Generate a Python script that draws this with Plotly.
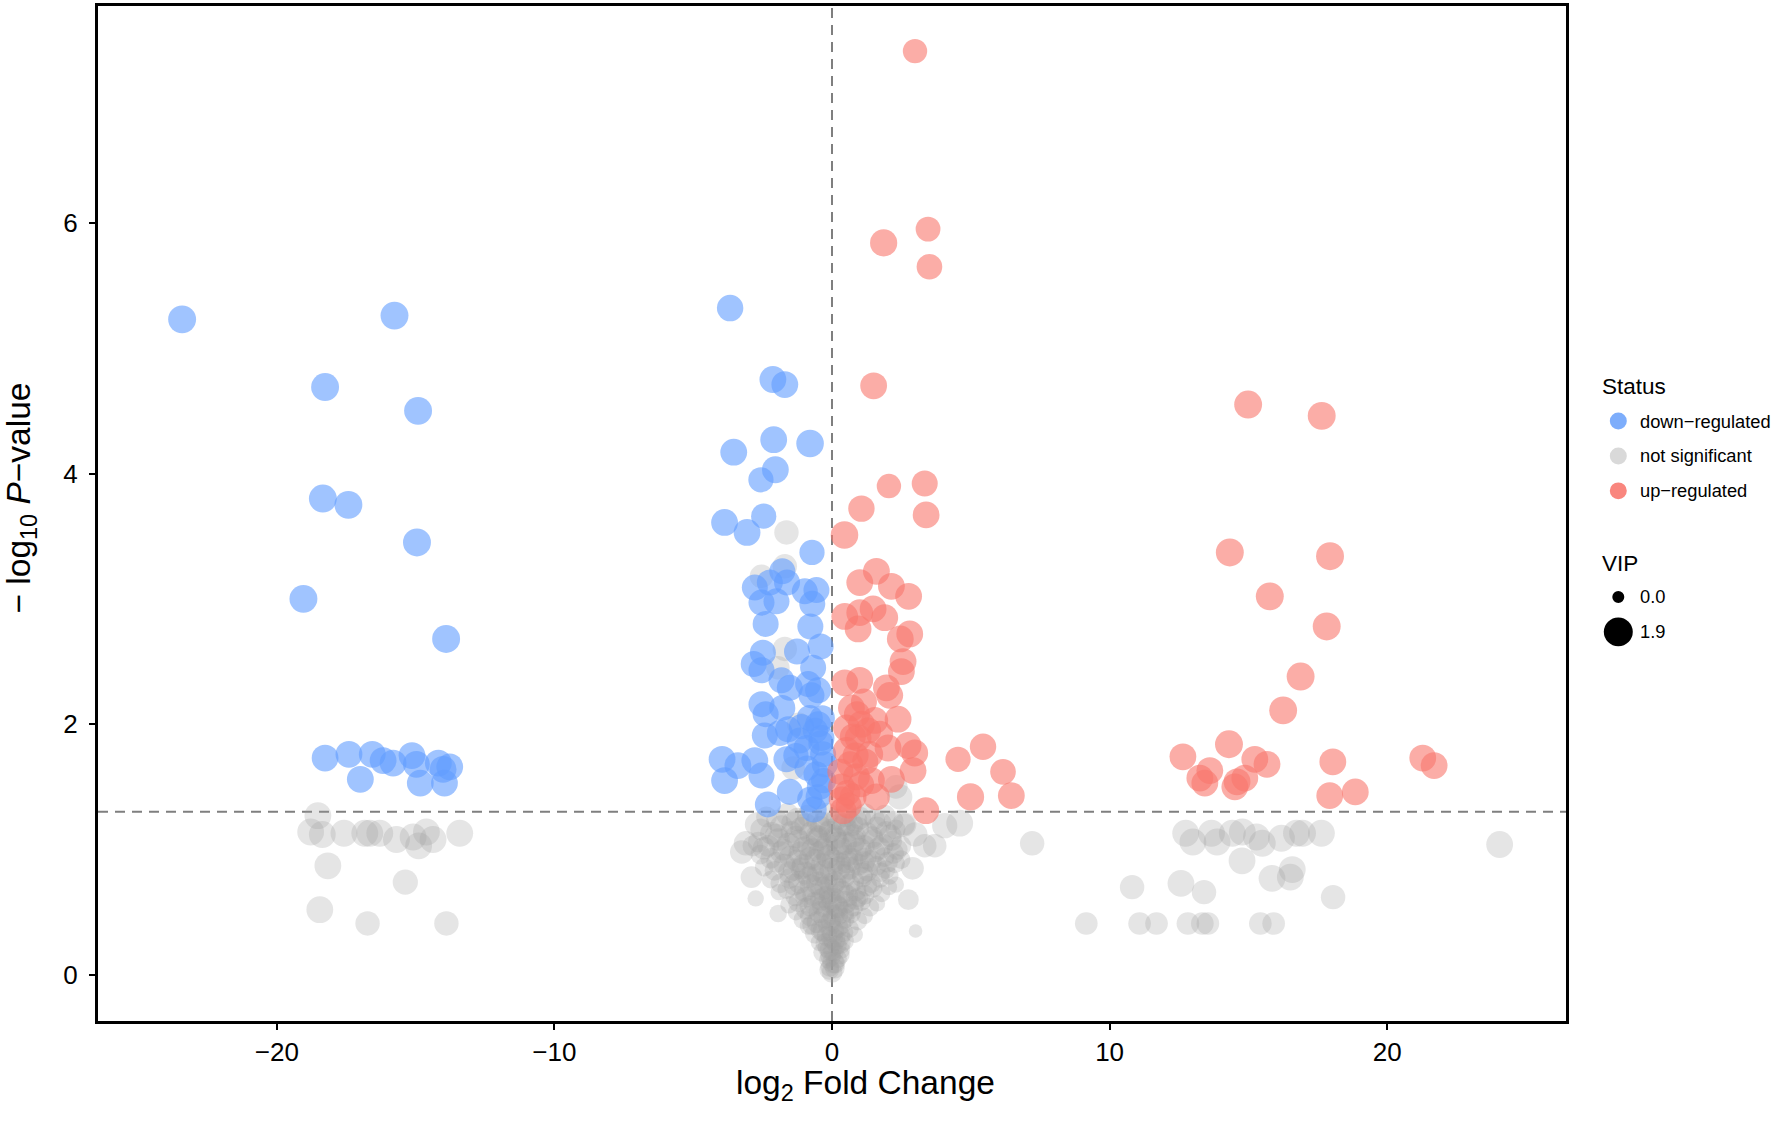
import math
import plotly.graph_objects as go

# ---------------- data ----------------
# down-regulated
down_fc = [-23.41, -15.76, -18.26, -14.91, -18.34, -17.42, -14.95, -19.04, -13.90,
           -18.26, -17.40, -16.56, -16.17, -15.81, -16.99, -15.13, -14.97, -14.18, -13.77, -14.01, -14.83, -13.96,
           -3.67, -2.13, -1.70, -2.10, -0.79, -3.54, -2.04, -2.56, -3.87, -2.46, -3.06,
           -0.72, -1.79, -2.78, -2.24, -1.62, -2.00, -2.54, -0.98, -0.56, -0.71, -2.39, -0.78, -0.41, -1.26,
           -2.49, -2.82, -2.54, -0.68, -1.82, -1.52, -0.86, -0.50, -2.54, -2.39, -1.79, -0.74, -2.42, -1.88,
           -1.58, -0.50, -0.38, -0.92, -3.96, -3.39, -2.78, -3.87, -2.54, -1.64, -0.26, -0.56, -1.52, -2.31,
           -0.66, -0.44, -0.80, -1.16, -0.32,
           -0.40, -0.60, -0.30, -0.50, -0.90, -1.10, -0.35, -1.30, -0.80]
down_p = [5.23, 5.26, 4.69, 4.50, 3.80, 3.75, 3.45, 3.00, 2.68,
          1.73, 1.76, 1.76, 1.71, 1.69, 1.56, 1.75, 1.68, 1.69, 1.66, 1.64, 1.53, 1.53,
          5.32, 4.75, 4.71, 4.27, 4.24, 4.17, 4.03, 3.95, 3.61, 3.66, 3.53,
          3.37, 3.22, 3.09, 3.13, 3.13, 2.98, 2.97, 3.06, 3.07, 2.96, 2.80, 2.78, 2.62, 2.58,
          2.57, 2.48, 2.43, 2.45, 2.35, 2.29, 2.32, 2.27, 2.16, 2.08, 2.13, 2.23, 1.91, 1.93,
          1.96, 2.00, 1.89, 1.81, 1.72, 1.67, 1.71, 1.55, 1.59, 1.72, 1.68, 1.60, 1.46, 1.36,
          1.32, 1.50, 2.05, 1.87, 1.76,
          1.85, 1.95, 1.55, 1.42, 1.65, 1.98, 2.05, 1.75, 1.40]
down_vip = [1.75, 1.75, 1.75, 1.75, 1.75, 1.75, 1.75, 1.75, 1.75,
            1.6, 1.6, 1.6, 1.6, 1.6, 1.6, 1.6, 1.6, 1.6, 1.6, 1.6, 1.6, 1.6,
            1.55, 1.6, 1.6, 1.6, 1.7, 1.6, 1.6, 1.4, 1.6, 1.4, 1.6,
            1.4, 1.5, 1.5, 1.5, 1.5, 1.5, 1.5, 1.5, 1.5, 1.5, 1.5, 1.5, 1.5, 1.5,
            1.5, 1.5, 1.5, 1.5, 1.5, 1.5, 1.5, 1.5, 1.5, 1.5, 1.5, 1.5, 1.5, 1.5,
            1.5, 1.5, 1.5, 1.5, 1.6, 1.6, 1.6, 1.6, 1.5, 1.5, 1.5, 1.5, 1.5, 1.5,
            1.5, 1.5, 1.5, 1.5, 1.5,
            1.4, 1.4, 1.4, 1.4, 1.4, 1.4, 1.4, 1.4, 1.4]

# up-regulated
up_fc = [2.99, 3.46, 1.86, 3.51, 1.50, 2.05, 3.34, 1.06, 3.39, 0.45,
         1.60, 1.00, 2.14, 2.76, 0.46, 1.00, 1.48, 1.90, 0.94, 2.80, 2.46, 2.56, 2.50, 0.46, 1.00,
         1.96, 2.08, 0.70, 2.38, 1.54, 1.06, 0.52, 1.72, 0.94, 2.74, 2.98, 0.52, 1.36, 2.02, 2.92,
         2.14, 1.42, 0.88, 0.34, 1.60, 0.40, 0.76,
         4.54, 5.44, 6.16, 4.99, 6.46, 3.38,
         0.30, 0.55, 0.65, 0.85, 0.35, 0.60, 1.05, 0.75, 1.20, 0.90, 1.30, 1.15,
         14.99, 17.64, 14.33, 17.94, 15.77, 17.82, 16.88, 16.25, 12.64, 14.30, 13.61, 13.25, 13.43,
         15.23, 15.67, 14.87, 14.59, 14.51, 18.04, 17.93, 18.85, 21.28, 21.69]
up_p = [7.37, 5.95, 5.84, 5.65, 4.70, 3.90, 3.92, 3.72, 3.67, 3.51,
        3.22, 3.13, 3.10, 3.02, 2.86, 2.89, 2.92, 2.85, 2.76, 2.72, 2.68, 2.50, 2.42, 2.33, 2.35,
        2.29, 2.23, 2.13, 2.04, 2.03, 2.00, 1.97, 1.92, 1.89, 1.83, 1.77, 1.79, 1.76, 1.81, 1.63,
        1.56, 1.55, 1.58, 1.50, 1.42, 1.31, 1.42,
        1.72, 1.82, 1.62, 1.42, 1.43, 1.31,
        1.62, 1.45, 1.68, 1.75, 1.40, 1.35, 1.52, 1.90, 1.70, 2.08, 1.95, 2.18,
        4.55, 4.46, 3.37, 3.34, 3.02, 2.78, 2.38, 2.11, 1.74, 1.84, 1.63, 1.57, 1.53,
        1.72, 1.68, 1.57, 1.54, 1.50, 1.70, 1.43, 1.46, 1.73, 1.67]
up_vip = [1.3, 1.35, 1.65, 1.45, 1.6, 1.3, 1.5, 1.55, 1.6, 1.7,
          1.6, 1.6, 1.6, 1.6, 1.6, 1.6, 1.6, 1.6, 1.6, 1.6, 1.6, 1.6, 1.6, 1.6, 1.6,
          1.6, 1.6, 1.6, 1.6, 1.6, 1.6, 1.6, 1.6, 1.6, 1.6, 1.6, 1.6, 1.6, 1.6, 1.6,
          1.6, 1.6, 1.6, 1.6, 1.6, 1.6, 1.6,
          1.4, 1.55, 1.45, 1.65, 1.6, 1.6,
          1.5, 1.5, 1.5, 1.5, 1.5, 1.5, 1.5, 1.5, 1.5, 1.5, 1.5, 1.5,
          1.75, 1.75, 1.75, 1.75, 1.75, 1.75, 1.75, 1.75, 1.6, 1.75, 1.6, 1.6, 1.6,
          1.6, 1.6, 1.6, 1.6, 1.6, 1.6, 1.6, 1.6, 1.6, 1.6]

# not significant: outer groups and central cloud
ns_fc = [-18.52, -18.78, -18.36, -17.58, -16.83, -16.65, -16.29, -15.69, -15.09, -14.89, -14.61, -14.37, -13.41,
         -18.16, -15.37, -18.45, -16.73, -13.89,
         12.74, 13.00, 13.67, 13.87, 14.42, 14.78, 15.29, 15.50, 16.19, 16.73, 16.95, 17.63, 24.05, 14.77,
         10.81, 12.57, 13.40, 15.85, 16.58, 16.51, 18.05, 11.08, 11.69, 12.82, 13.34, 13.54, 15.43, 15.91,
         9.16, 7.21,
         4.06, 4.60, 3.34, 3.70, 3.01, -2.75, -1.94, -2.85, 2.44, -1.64, -1.70, -2.54, -1.70, -1.95, -1.20,
         -1.40, 2.30, 2.60,
         0.00, -0.08, 0.10, 0.04, -0.15, 0.20,
         -0.32, -0.12, 0.05, 0.18, 0.34, 0.45, -0.45, 0.26,
         -0.62, -0.38, -0.18, 0.02, 0.22, 0.41, 0.63, 0.82, -0.85,
         -1.05, -0.78, -0.52, -0.26, -0.04, 0.19, 0.44, 0.68, 0.93, 1.18, -1.30,
         -1.55, -1.22, -0.92, -0.61, -0.33, -0.07, 0.21, 0.49, 0.77, 1.05, 1.36, 1.62,
         -1.92, -1.63, -1.31, -0.98, -0.66, -0.36, -0.08, 0.24, 0.55, 0.86, 1.17, 1.48, 1.79, 2.05,
         -2.21, -1.86, -1.52, -1.17, -0.84, -0.51, -0.19, 0.12, 0.43, 0.76, 1.09, 1.41, 1.74, 2.08, 2.30,
         -2.44, -2.07, -1.71, -1.36, -1.02, -0.68, -0.35, -0.03, 0.29, 0.62, 0.95, 1.28, 1.61, 1.94, 2.27,
         -2.58, -2.21, -1.85, -1.49, -1.14, -0.79, -0.45, -0.12, 0.21, 0.54, 0.88, 1.21, 1.55, 1.89, 2.22, 2.49,
         -2.66, -2.30, -1.93, -1.57, -1.21, -0.86, -0.52, -0.19, 0.14, 0.47, 0.81, 1.15, 1.49, 1.83, 2.17, 2.48,
         -2.55, -2.18, -1.82, -1.46, -1.10, -0.75, -0.41, -0.08, 0.25, 0.59, 0.93, 1.27, 1.61, 1.95, 2.29,
         -2.36, -1.98, -1.60, -1.23, -0.87, -0.52, -0.18, 0.16, 0.50, 0.85, 1.19, 1.54, 1.90, 2.22,
         -0.05, 0.12, -0.22, 0.30, 0.08, -0.10,
         -0.45, 0.30, -0.15, 0.60, -0.70, 0.05, -0.95, 0.95, -0.25, 0.38,
         -1.35, -0.75, 0.00, 0.62, 1.25, -1.55, -0.95, -0.30, 0.40, 1.10, 1.75, -2.00, -1.25, -0.60, 0.05,
         0.72, 1.40, 2.00,
         -2.45, -1.75, -1.00, -0.30, 0.35, 1.00, 1.70, 2.35, -2.00, -1.30, -0.55, 0.10, 0.80, 1.45, 2.10,
         -2.70, -1.40, -0.30, 0.70, 1.75, 2.60,
         -3.10, -3.25, 3.00, 2.90, -2.90, 2.75,
         0.00, -0.10, 0.15, -0.20, 0.25, -0.15, 0.20, -0.05, 0.45, -0.45, -0.50, 0.55, -0.40, 0.40,
         -0.30, 0.30, -0.05, 0.05, -0.70, 0.75, -0.95, 1.00, -1.10, 1.15, -0.80, 0.85]
ns_p = [1.27, 1.14, 1.12, 1.13, 1.13, 1.13, 1.13, 1.08, 1.10, 1.03, 1.14, 1.08, 1.13,
        0.87, 0.74, 0.52, 0.41, 0.41,
        1.13, 1.06, 1.13, 1.06, 1.13, 1.14, 1.10, 1.05, 1.09, 1.13, 1.13, 1.13, 1.04, 0.91,
        0.70, 0.73, 0.66, 0.77, 0.84, 0.78, 0.62, 0.41, 0.41, 0.41, 0.41, 0.41, 0.41, 0.41,
        0.41, 1.05,
        1.19, 1.21, 1.03, 1.03, 0.35, 0.61, 0.49, 1.03, 1.42, 3.53, 3.26, 3.18, 2.60, 2.45, 2.00,
        1.65, 1.50, 1.20,
        0.02, 0.06, 0.05, 0.10, 0.12, 0.13,
        0.18, 0.22, 0.19, 0.24, 0.20, 0.27, 0.26, 0.31,
        0.33, 0.36, 0.31, 0.35, 0.38, 0.34, 0.37, 0.32, 0.39,
        0.44, 0.47, 0.42, 0.46, 0.43, 0.48, 0.45, 0.49, 0.43, 0.47, 0.50,
        0.56, 0.58, 0.53, 0.57, 0.55, 0.59, 0.54, 0.58, 0.55, 0.59, 0.54, 0.57,
        0.66, 0.68, 0.63, 0.67, 0.64, 0.69, 0.65, 0.68, 0.63, 0.67, 0.64, 0.69, 0.65, 0.70,
        0.76, 0.73, 0.77, 0.74, 0.78, 0.73, 0.77, 0.74, 0.79, 0.75, 0.78, 0.73, 0.77, 0.79, 0.72,
        0.86, 0.83, 0.88, 0.84, 0.87, 0.83, 0.88, 0.84, 0.89, 0.85, 0.88, 0.83, 0.87, 0.84, 0.89,
        0.96, 0.93, 0.98, 0.94, 0.97, 0.93, 0.98, 0.94, 0.99, 0.95, 0.97, 0.93, 0.98, 0.94, 0.97, 0.92,
        1.06, 1.03, 1.08, 1.04, 1.07, 1.03, 1.08, 1.04, 1.09, 1.05, 1.07, 1.03, 1.08, 1.04, 1.07, 1.03,
        1.16, 1.13, 1.18, 1.14, 1.17, 1.13, 1.18, 1.14, 1.19, 1.15, 1.17, 1.13, 1.18, 1.14, 1.16,
        1.26, 1.23, 1.28, 1.24, 1.27, 1.23, 1.28, 1.24, 1.27, 1.23, 1.28, 1.24, 1.27, 1.23,
        0.15, 0.09, 0.25, 0.16, 0.28, 0.04,
        0.50, 0.41, 0.52, 0.52, 0.40, 0.47, 0.62, 0.62, 0.62, 0.66,
        0.72, 0.71, 0.72, 0.72, 0.71, 0.82, 0.81, 0.82, 0.82, 0.81, 0.82, 0.90, 0.91, 0.92, 0.91,
        0.92, 0.91, 0.90,
        1.01, 1.00, 1.01, 1.00, 1.01, 1.00, 1.01, 1.00, 1.11, 1.10, 1.11, 1.10, 1.11, 1.10, 1.11,
        1.20, 1.21, 1.21, 1.20, 1.21, 1.20,
        1.05, 0.98, 1.12, 0.85, 0.78, 0.60,
        0.30, 0.40, 0.55, 0.70, 0.85, 0.95, 1.05, 1.15, 1.20, 1.10, 0.80, 0.90, 0.60, 0.50,
        0.35, 0.25, 0.20, 0.60, 1.00, 1.05, 1.20, 1.25, 0.85, 0.90, 0.55, 0.60]
ns_vip = [1.6, 1.6, 1.6, 1.6, 1.6, 1.6, 1.6, 1.6, 1.6, 1.6, 1.6, 1.6, 1.6,
          1.6, 1.4, 1.6, 1.3, 1.3,
          1.6, 1.6, 1.6, 1.6, 1.6, 1.6, 1.6, 1.6, 1.6, 1.6, 1.6, 1.6, 1.6, 1.6,
          1.3, 1.6, 1.3, 1.6, 1.6, 1.6, 1.3, 1.1, 1.1, 1.1, 1.1, 1.1, 1.1, 1.1,
          1.1, 1.3,
          1.4, 1.6, 1.2, 1.2, 0.3, 0.5, 0.6, 0.9, 1.4, 1.3, 1.3, 1.2, 1.3, 1.2, 1.2,
          1.2, 1.2, 1.0,
          0.9, 0.7, 0.8, 1.0, 0.6, 0.7,
          0.8, 1.0, 0.9, 0.8, 0.6, 0.7, 0.6, 1.0,
          0.8, 1.0, 0.9, 1.1, 0.9, 0.8, 0.7, 0.5, 0.6,
          0.7, 0.9, 1.0, 1.1, 0.9, 1.0, 0.9, 0.8, 0.7, 0.5, 0.5,
          0.6, 0.8, 1.0, 1.1, 1.0, 1.2, 1.0, 1.1, 0.9, 0.8, 0.7, 0.5,
          0.5, 0.7, 0.9, 1.0, 1.1, 1.2, 1.0, 1.1, 1.0, 0.9, 0.8, 0.7, 0.6, 0.5,
          0.6, 0.8, 0.9, 1.1, 1.0, 1.2, 1.1, 1.0, 1.2, 1.0, 0.9, 0.8, 0.7, 0.6, 0.5,
          0.7, 0.8, 1.0, 1.1, 1.2, 1.0, 1.1, 1.2, 1.0, 1.1, 1.0, 0.9, 0.8, 0.7, 0.8,
          0.8, 0.9, 1.0, 1.1, 1.2, 1.1, 1.0, 1.2, 1.1, 1.0, 1.2, 1.0, 0.9, 0.8, 0.9, 0.7,
          0.9, 1.0, 1.1, 1.2, 1.1, 1.0, 1.2, 1.1, 1.0, 1.2, 1.1, 1.0, 0.9, 1.0, 0.8, 0.9,
          1.0, 1.1, 1.2, 1.0, 1.1, 1.2, 1.0, 1.1, 1.2, 1.0, 1.1, 1.0, 0.9, 1.0, 0.8,
          0.9, 1.0, 1.1, 1.2, 1.0, 1.1, 1.2, 1.0, 1.1, 1.2, 1.0, 0.9, 1.0, 0.8,
          0.9, 0.8, 0.9, 0.7, 1.0, 0.8,
          1.0, 1.0, 1.1, 0.9, 0.9, 1.0, 0.9, 0.8, 1.0, 1.1,
          1.0, 1.1, 1.2, 1.0, 0.9, 1.0, 1.1, 1.2, 1.1, 1.0, 0.8, 0.9, 1.1, 1.0, 1.2,
          1.1, 1.0, 0.9,
          1.1, 1.0, 1.2, 1.1, 1.0, 1.2, 1.1, 0.9, 1.2, 1.1, 1.0, 1.2, 1.1, 1.0, 1.1,
          1.3, 1.2, 1.1, 1.2, 1.0, 1.3,
          1.3, 1.2, 1.3, 1.1, 1.0, 0.9,
          1.0, 1.1, 1.1, 1.2, 1.2, 1.2, 1.2, 1.2, 1.1, 1.1, 1.1, 1.1, 1.0, 1.0,
          1.0, 0.9, 1.0, 1.2, 1.1, 1.1, 1.1, 1.1, 1.0, 1.0, 0.9, 0.9]

x_ticks = [-20, -10, 0, 10, 20]
x_tick_labels = ["\u221220", "\u221210", "0", "10", "20"]
y_ticks = [0, 2, 4, 6]
y_tick_labels = ["0", "2", "4", "6"]
status_labels = ["down\u2212regulated", "not significant", "up\u2212regulated"]
vip_breaks = [0.0, 1.9]
p_cut = -math.log10(0.05)

# ---------------- styling ----------------
FONT = "Liberation Sans, Arial, Helvetica, sans-serif"
COL_DOWN = "#619CFF"
COL_NS = "#A0A0A0"
COL_UP = "#F8766D"
VIP_MAX = 1.9
D_MIN, D_MAX = 8.0, 29.0


def vip_size(v):
    return math.sqrt(D_MIN ** 2 + (D_MAX ** 2 - D_MIN ** 2) * v / VIP_MAX)


W, H = 1773, 1124
L, R, T, B = 98, 207, 3, 103
PW, PH = W - L - R, H - T - B


def px_x(px):
    return (px - L) / PW


def px_y(py):
    return (H - B - py) / PH


fig = go.Figure()
for fc, p, vip, col, op in [(ns_fc, ns_p, ns_vip, COL_NS, 0.27),
                            (down_fc, down_p, down_vip, COL_DOWN, 0.6),
                            (up_fc, up_p, up_vip, COL_UP, 0.6)]:
    fig.add_trace(go.Scatter(
        x=fc, y=p, mode="markers", showlegend=False, hoverinfo="skip",
        marker=dict(color=col, opacity=op, size=[vip_size(v) for v in vip],
                    line=dict(width=0))))

shapes = [
    dict(type="line", xref="x", yref="paper", x0=0, x1=0, y0=0, y1=1,
         line=dict(color="#7F7F7F", width=2, dash="10px,7px"), layer="below"),
    dict(type="line", xref="paper", yref="y", x0=0, x1=1, y0=p_cut, y1=p_cut,
         line=dict(color="#7F7F7F", width=2, dash="10px,7px"), layer="below"),
]
TITLE_SIZE = 33.5
annotations = [
    dict(text="log<sub>2</sub> Fold Change", xref="paper", yref="paper",
         x=px_x(865), y=px_y(1085), xanchor="center", yanchor="middle",
         showarrow=False, font=dict(family=FONT, size=TITLE_SIZE, color="black")),
    dict(text="\u2212 log<sub>10</sub> <i>P</i>\u2212value", xref="paper", yref="paper",
         x=px_x(21), y=px_y(497), xanchor="center", yanchor="middle", textangle=-90,
         showarrow=False, font=dict(family=FONT, size=TITLE_SIZE, color="black")),
]

# legend (drawn manually)
LEG_KEY_X = 1618.3
LEG_TXT_X = 1638.3
LEG_TITLE = 22.5
LEG_TEXT = 18.3
annotations.append(dict(text="Status", xref="paper", yref="paper", x=px_x(1600), y=px_y(385),
                        xanchor="left", yanchor="middle", showarrow=False,
                        font=dict(family=FONT, size=LEG_TITLE, color="black")))
leg_cols = ["#7DADFB", "#D9D9D9", "#F9867E"]
for i, (lab, c) in enumerate(zip(status_labels, leg_cols)):
    cy = 419.3 + 35 * i
    d = 17
    shapes.append(dict(type="circle", xref="paper", yref="paper",
                       x0=px_x(LEG_KEY_X - d / 2), x1=px_x(LEG_KEY_X + d / 2),
                       y0=px_y(cy + d / 2), y1=px_y(cy - d / 2),
                       fillcolor=c, line=dict(width=0)))
    annotations.append(dict(text=lab, xref="paper", yref="paper", x=px_x(LEG_TXT_X), y=px_y(cy),
                            xanchor="left", yanchor="middle", showarrow=False,
                            font=dict(family=FONT, size=LEG_TEXT, color="black")))
annotations.append(dict(text="VIP", xref="paper", yref="paper", x=px_x(1600), y=px_y(562),
                        xanchor="left", yanchor="middle", showarrow=False,
                        font=dict(family=FONT, size=LEG_TITLE, color="black")))
for i, v in enumerate(vip_breaks):
    cy = 595.7 + 35 * i
    d = 12 if v == 0 else 29
    shapes.append(dict(type="circle", xref="paper", yref="paper",
                       x0=px_x(LEG_KEY_X - d / 2), x1=px_x(LEG_KEY_X + d / 2),
                       y0=px_y(cy + d / 2), y1=px_y(cy - d / 2),
                       fillcolor="black", line=dict(width=0)))
    annotations.append(dict(text=f"{v:.1f}", xref="paper", yref="paper", x=px_x(LEG_TXT_X), y=px_y(cy),
                            xanchor="left", yanchor="middle", showarrow=False,
                            font=dict(family=FONT, size=LEG_TEXT, color="black")))

axis_common = dict(showline=True, linewidth=3, linecolor="black", mirror=True,
                   ticks="outside", ticklen=6, tickwidth=2, tickcolor="black",
                   showgrid=False, zeroline=False,
                   tickfont=dict(family=FONT, size=26, color="black"))
fig.update_layout(
    width=W, height=H, autosize=False,
    margin=dict(l=L, r=R, t=T, b=B),
    paper_bgcolor="white", plot_bgcolor="white",
    xaxis=dict(range=[-26.44, 26.44], tickvals=x_ticks, ticktext=x_tick_labels, **axis_common),
    yaxis=dict(range=[-0.368, 7.73], tickvals=y_ticks, ticktext=y_tick_labels,
               ticklabelstandoff=6, **axis_common),
    shapes=shapes, annotations=annotations, showlegend=False,
)
fig.write_html("out.html", config={"displayModeBar": False},
               post_script="document.body.style.margin='0px';")
